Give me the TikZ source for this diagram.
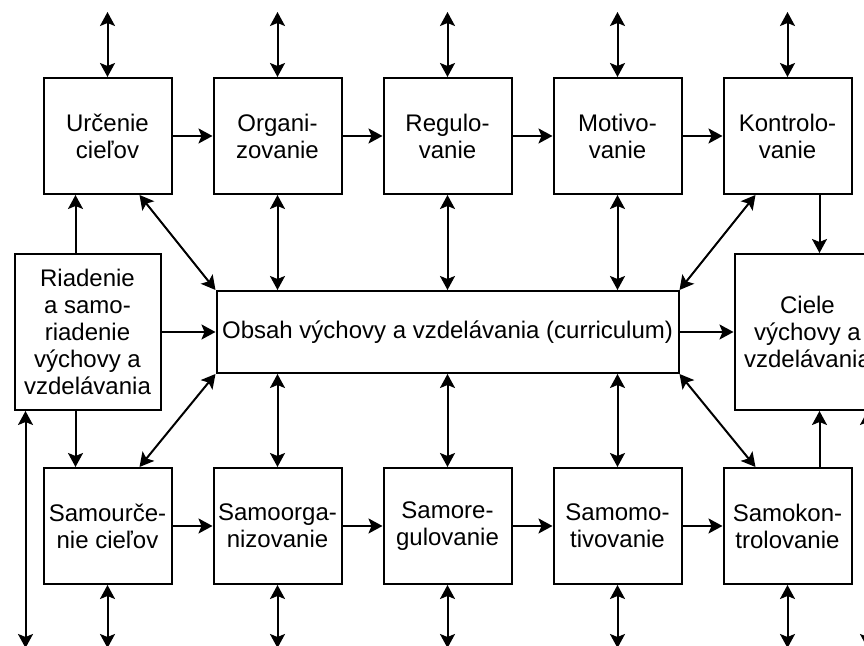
\documentclass[tikz,border=0pt]{standalone}
\usepackage{fontspec}
\setmainfont{Liberation Sans}
\usetikzlibrary{arrows.meta, positioning}

\begin{document}
\begin{tikzpicture}[>={Stealth[length=7pt, width=7.5pt, inset=1.5pt]}, node distance=20pt]
	\tikzstyle{stage} = [draw, line width=1pt, minimum width=64pt, minimum height=58pt, inner sep=0pt, align=center, font=\fontsize{12}{13.5}\selectfont]
	\tikzstyle{core} = [stage, minimum width=231pt, minimum height=41pt]
	\tikzstyle{side} = [stage, minimum width=73pt, minimum height=78pt]
	\tikzstyle{link} = [line width=1pt]

	\useasboundingbox (0,0) rectangle (432pt,-323pt);
	\clip (0,0) rectangle (432pt,-323pt);

	% riadenie
	\node[stage] (u1) at (53.75pt,-68pt) {Určenie\\cieľov};
	\node[stage, right=of u1] (u2) {Organi-\\zovanie};
	\node[stage, right=of u2] (u3) {Regulo-\\vanie};
	\node[stage, right=of u3] (u4) {Motivo-\\vanie};
	\node[stage, right=of u4] (u5) {Kontrolo-\\vanie};

	% samoriadenie
	\node[stage, below=136pt of u1] (s1) {Samourče-\\nie cieľov};
	\node[stage, right=of s1] (s2) {Samoorga-\\nizovanie};
	\node[stage, right=of s2] (s3) {Samore-\\gulovanie};
	\node[stage, right=of s3] (s4) {Samomo-\\tivovanie};
	\node[stage, right=of s4] (s5) {Samokon-\\trolovanie};

	% stred
	\node[core, below=47.5pt of u3] (obsah) {Obsah výchovy a vzdelávania (curriculum)};
	\node[side, left=27pt of obsah] (riadenie) {Riadenie\\a samo-\\riadenie\\výchovy a\\vzdelávania};
	\node[side, right=27pt of obsah] (ciele) {Ciele\\výchovy a\\vzdelávania};

	% body na okrajoch blokov
	\coordinate (u1a) at ([xshift=-16pt]u1.south);
	\coordinate (u1b) at ([xshift=16pt]u1.south);
	\coordinate (u5a) at ([xshift=-16pt]u5.south);
	\coordinate (u5b) at ([xshift=16pt]u5.south);
	\coordinate (s1a) at ([xshift=-16pt]s1.north);
	\coordinate (s1b) at ([xshift=16pt]s1.north);
	\coordinate (s5a) at ([xshift=-16pt]s5.north);
	\coordinate (s5b) at ([xshift=16pt]s5.north);
	\coordinate (rl) at ([xshift=6pt]riadenie.south west);
	\coordinate (cr) at ([xshift=-7pt]ciele.south east);

	% volne konce
	\foreach \i in {1,...,5} {
		\coordinate (t\i) at ([yshift=32.5pt]u\i.north);
		\coordinate (b\i) at ([yshift=-31.5pt]s\i.south);
		\draw[<->, link] (t\i) -- (u\i);
		\draw[<->, link] (s\i) -- (b\i);
	}

	\foreach \i in {2,3,4} {
		\draw[<->, link] (u\i) -- (u\i |- obsah.north);
		\draw[<->, link] (s\i) -- (s\i |- obsah.south);
	}

	\path[->, link]
		(u1) edge (u2)
		(u2) edge (u3)
		(u3) edge (u4)
		(u4) edge (u5)
		(s1) edge (s2)
		(s2) edge (s3)
		(s3) edge (s4)
		(s4) edge (s5)

		(riadenie) edge (obsah)
		(obsah) edge (ciele)
		(u1a |- riadenie.north) edge (u1a)
		(s1a |- riadenie.south) edge (s1a)
		(u5b) edge (u5b |- ciele.north)
		(s5b) edge (s5b |- ciele.south)

		(obsah.north west) edge[<->] (u1b)
		(obsah.south west) edge[<->] (s1b)
		(obsah.north east) edge[<->] (u5a)
		(obsah.south east) edge[<->] (s5a)

		(rl) edge[<->] (rl |- b1)
		(cr) edge[<->] (cr |- b1)
	;
\end{tikzpicture}
\end{document}
